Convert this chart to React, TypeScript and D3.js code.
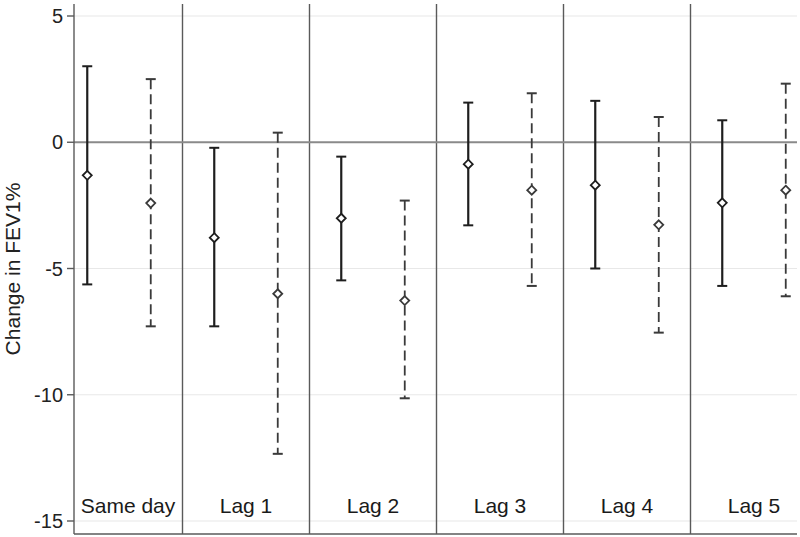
import * as d3 from 'd3';

const lags = ['Same day', 'Lag 1', 'Lag 2', 'Lag 3', 'Lag 4', 'Lag 5'];

// solid series: estimate and 95% CI
const solidEst = [-1.31, -3.78, -3.01, -0.87, -1.7, -2.4];
const solidLo = [-5.63, -7.29, -5.47, -3.29, -5.0, -5.69];
const solidHi = [3.01, -0.22, -0.57, 1.57, 1.64, 0.87];

// dashed series
const dashEst = [-2.41, -6.0, -6.27, -1.9, -3.27, -1.9];
const dashLo = [-7.29, -12.34, -10.14, -5.69, -7.54, -6.1];
const dashHi = [2.5, 0.38, -2.31, 1.94, 1.0, 2.32];

const yTicks = [5, 0, -5, -10, -15];

const W = 800;
const H = 537;
const plot = { left: 74, right: 797, top: 4, bottom: 534 };

function App() {
  const y = d3.scaleLinear().domain([-15, 5]).range([521, 16]);
  const panel = d3.scaleBand().domain(lags).range([55.5, 817.5]).padding(0);
  const bw = panel.bandwidth();

  const series = [
    { est: solidEst, lo: solidLo, hi: solidHi, off: 0.25, dash: null, color: '#1e1e1e', w: 2.2 },
    { est: dashEst, lo: dashLo, hi: dashHi, off: 0.75, dash: '10,5', color: '#3a3a3a', w: 1.8 },
  ];

  const diamond = (cx: number, cy: number) =>
    `M${cx},${cy - 4.5}L${cx + 4.5},${cy}L${cx},${cy + 4.5}L${cx - 4.5},${cy}Z`;

  return (
    <svg
      width={W}
      height={H}
      style={{ position: 'absolute', left: 0, top: 0, background: '#fff' }}
      fontFamily="'Liberation Sans', Arial, sans-serif"
    >
      <defs>
        <clipPath id="plotClip">
          <rect x={plot.left} y={0} width={plot.right - plot.left} height={H} />
        </clipPath>
      </defs>

      {/* grid */}
      {yTicks.filter(t => t !== 0).map(t => (
        <line key={'g' + t} x1={plot.left} x2={plot.right} y1={y(t)} y2={y(t)}
          stroke="#e8e8e8" strokeWidth={1.2} />
      ))}

      {/* panel separators */}
      {lags.slice(1).map(l => (
        <line key={'s' + l} x1={panel(l)} x2={panel(l)} y1={plot.top} y2={plot.bottom}
          stroke="#5a5a5a" strokeWidth={1.4} />
      ))}

      {/* zero line */}
      <line x1={plot.left} x2={plot.right} y1={y(0)} y2={y(0)} stroke="#8a8a8a" strokeWidth={2} />

      {/* axes */}
      <line x1={plot.left} x2={plot.left} y1={plot.top} y2={plot.bottom} stroke="#5a5a5a" strokeWidth={1.4} />
      <line x1={plot.left} x2={plot.right} y1={plot.bottom} y2={plot.bottom} stroke="#5a5a5a" strokeWidth={1.4} />

      {yTicks.map(t => (
        <g key={'t' + t}>
          <line x1={plot.left - 7} x2={plot.left} y1={y(t)} y2={y(t)} stroke="#5a5a5a" strokeWidth={1.4} />
          <text x={plot.left - 11} y={y(t)} dy="0.36em" textAnchor="end" fontSize={20} fill="#222">
            {t}
          </text>
        </g>
      ))}

      <text
        transform={`translate(20, ${(plot.top + plot.bottom) / 2}) rotate(-90)`}
        textAnchor="middle"
        fontSize={21}
        fill="#222"
      >
        Change in FEV1%
      </text>

      <g clipPath="url(#plotClip)">
        {lags.map(l => (
          <text key={'l' + l} x={(panel(l) as number) + bw / 2 + (l === 'Same day' ? 9 : 0)} y={513}
            textAnchor="middle" fontSize={21} fill="#1a1a1a">
            {l}
          </text>
        ))}

        {series.map((s, si) =>
          lags.map((l, i) => {
            const cx = (panel(l) as number) + bw * s.off;
            return (
              <g key={`e${si}-${i}`}>
                <line x1={cx} x2={cx} y1={y(s.hi[i])} y2={y(s.lo[i])}
                  stroke={s.color} strokeWidth={s.w} strokeDasharray={s.dash ?? undefined} />
                <line x1={cx - 5} x2={cx + 5} y1={y(s.hi[i])} y2={y(s.hi[i])} stroke={s.color} strokeWidth={2} />
                <line x1={cx - 5} x2={cx + 5} y1={y(s.lo[i])} y2={y(s.lo[i])} stroke={s.color} strokeWidth={2} />
                <path d={diamond(cx, y(s.est[i]))} fill="#fff" stroke={s.color} strokeWidth={1.8} />
              </g>
            );
          })
        )}
      </g>
    </svg>
  );
}

export default App;
